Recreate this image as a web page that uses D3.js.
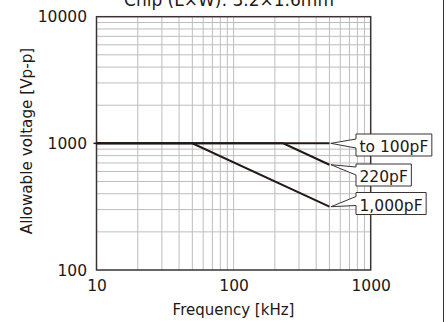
<!DOCTYPE html>
<html><head><meta charset="utf-8">
<script src="https://cdn.jsdelivr.net/npm/d3@7"></script>
<style>body{margin:0;background:#fff}svg{display:block}text{font-family:"DejaVu Sans",sans-serif;fill:#231815}</style>
</head><body><svg id="c" width="446" height="322"></svg>
<script>
const title = "Chip (L×W): 3.2×1.6mm";
const xTicks = [10, 100, 1000];
const yTicks = [100, 1000, 10000];
const seriesNames = ["to 100pF", "220pF", "1,000pF"];
const freq100 = [10, 500];
const volt100 = [1000, 1000];
const freq220 = [10, 230, 500];
const volt220 = [1000, 1000, 678];
const freq1000 = [10, 50, 500];
const volt1000 = [1000, 1000, 316];

const series = [
  {name: seriesNames[0], f: freq100, v: volt100},
  {name: seriesNames[1], f: freq220, v: volt220},
  {name: seriesNames[2], f: freq1000, v: volt1000}
];

const svg = d3.select("#c");
const L = 96.5, R = 370.7, T = 16.7, B = 270;
const x = d3.scaleLog().domain([10, 1000]).range([L, R]);
const y = d3.scaleLog().domain([100, 10000]).range([B, T]);
const ink = "#231815";
const frameCol = "#3a3233";

// grid
const xg = [], yg = [];
for (let d = 10; d < 1000; d *= 10) for (let k = 2; k <= 9; k++) xg.push(d * k);
xg.push(100);
for (let d = 100; d < 10000; d *= 10) for (let k = 2; k <= 9; k++) yg.push(d * k);
yg.push(1000);
const g = svg.append("g");
g.selectAll("line.xg").data(xg).join("line")
  .attr("x1", d => x(d)).attr("x2", d => x(d)).attr("y1", T).attr("y2", B)
  .attr("stroke", "#bdbdbd").attr("stroke-width", 1);
g.selectAll("line.yg").data(yg).join("line")
  .attr("y1", d => y(d)).attr("y2", d => y(d)).attr("x1", L).attr("x2", R)
  .attr("stroke", "#bdbdbd").attr("stroke-width", 1);

// frame
svg.append("rect").attr("x", L).attr("y", T).attr("width", R - L).attr("height", B - T)
  .attr("fill", "none").attr("stroke", frameCol).attr("stroke-width", 1.5);
svg.append("line").attr("x1", L - 3).attr("x2", L).attr("y1", y(1000)).attr("y2", y(1000))
  .attr("stroke", ink).attr("stroke-width", 1.5);

// axes (labels only)
const xa = svg.append("g").attr("transform", `translate(0,${B})`)
  .call(d3.axisBottom(x).tickValues(xTicks).tickFormat(d3.format("d")).tickSize(0));
xa.select(".domain").remove();
xa.selectAll("text").attr("font-size", 15.5).attr("font-family", "DejaVu Sans")
  .attr("fill", ink).attr("dy", null).attr("y", 20.5);
const ya = svg.append("g").attr("transform", `translate(${L},0)`)
  .call(d3.axisLeft(y).tickValues(yTicks).tickFormat(d3.format("d")).tickSize(0));
ya.select(".domain").remove();
ya.selectAll("text").attr("font-size", 15.5).attr("font-family", "DejaVu Sans")
  .attr("fill", ink).attr("dy", null).attr("x", -9.5).attr("y", 5);

svg.append("text").attr("x", 233.5).attr("y", 314.5).attr("text-anchor", "middle")
  .attr("font-size", 15).text("Frequency [kHz]");
svg.append("text").attr("transform", `translate(32,141) rotate(-90)`).attr("text-anchor", "middle")
  .attr("font-size", 15.2).text("Allowable voltage [Vp-p]");
svg.append("text").attr("x", 229).attr("y", 6).attr("text-anchor", "middle")
  .attr("font-size", 17).text(title);

// right border line
svg.append("line").attr("x1", 443.5).attr("x2", 443.5).attr("y1", 0).attr("y2", 322)
  .attr("stroke", "#333").attr("stroke-width", 1);

// data lines
const line = d3.line().x(d => x(d[0])).y(d => y(d[1]));
svg.selectAll("path.s").data(series).join("path")
  .attr("d", s => line(s.f.map((f, i) => [f, s.v[i]])))
  .attr("fill", "none").attr("stroke", ink).attr("stroke-width", 2);

// callouts
const boxes = [
  {top: 134, h: 22, o1: 5, o2: 14},
  {top: 164, h: 22, o1: 3, o2: 11},
  {top: 192.5, h: 22, o1: 4, o2: 13}
];
const bx = 356;
series.forEach((s, i) => {
  const b = boxes[i];
  const n = s.f.length - 1;
  const px = x(s.f[n]) + 1.5, py = y(s.v[n]);
  const grp = svg.append("g");
  const pth = grp.append("path");
  const t = grp.append("text").attr("x", bx + 3.5).attr("y", b.top + 18)
    .attr("font-size", 15.5).text(s.name);
  const w = t.node().getComputedTextLength() + 7;
  const p = d3.path();
  p.moveTo(bx, b.top);
  p.lineTo(bx + w, b.top);
  p.lineTo(bx + w, b.top + b.h);
  p.lineTo(bx, b.top + b.h);
  p.lineTo(bx, b.top + b.o2);
  p.lineTo(px, py);
  p.lineTo(bx, b.top + b.o1);
  p.closePath();
  pth.attr("d", p.toString()).attr("fill", "#fff")
    .attr("stroke", frameCol).attr("stroke-width", 1);
});
</script></body></html>
